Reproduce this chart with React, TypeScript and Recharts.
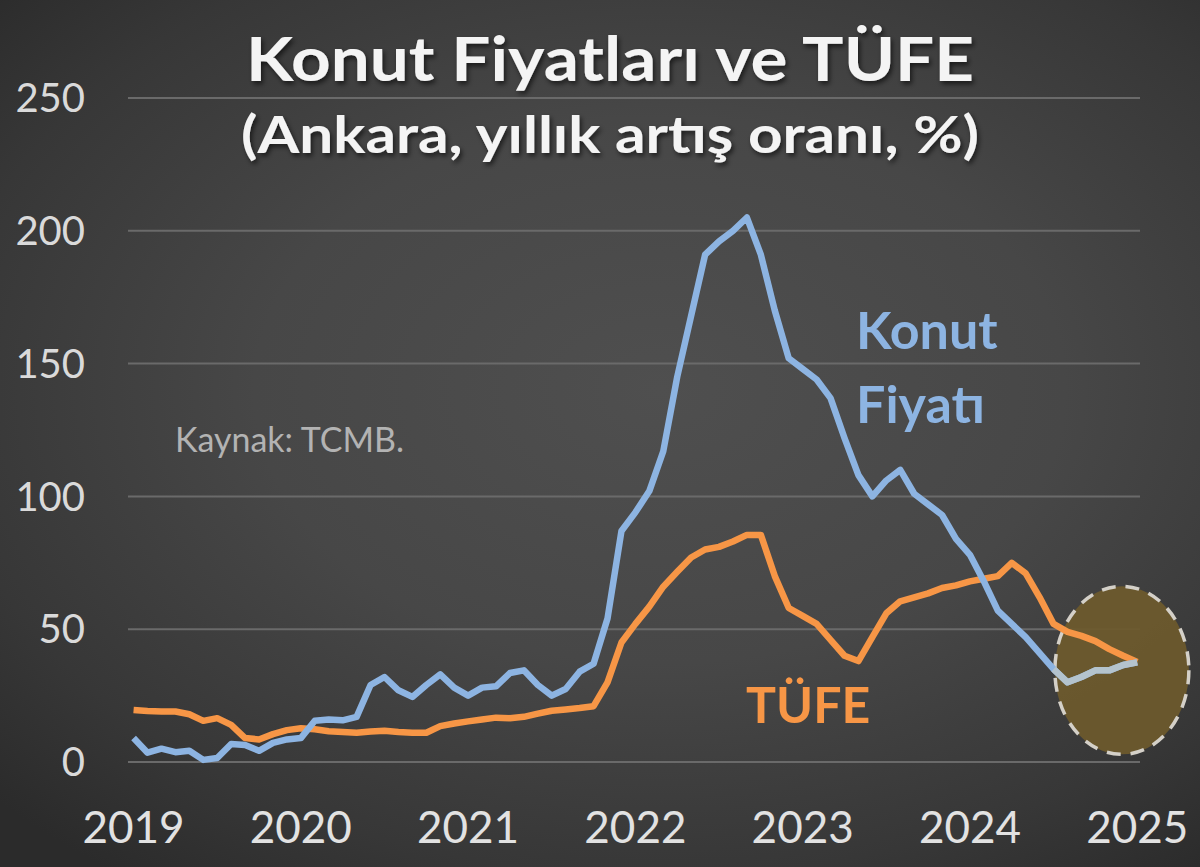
import { LineChart, Line, XAxis, YAxis, CartesianGrid, ReferenceDot } from "recharts";

// monthly, Jan 2019 .. Jan 2025 (index 0..72)
const yearTicks = [0, 12, 24, 36, 48, 60, 72];
const yearLabels = ["2019", "2020", "2021", "2022", "2023", "2024", "2025"];
const valueTicks = [0, 50, 100, 150, 200, 250];

// Konut fiyatı, yıllık % (Ankara)
const konut = [
  9, 3.5, 5, 3.7, 4.2, 0.8, 1.5, 6.8, 6.4, 4.2, 7.2, 8.5,
  9, 15.5, 16, 15.7, 17, 29, 32, 27, 24.5, 29, 33, 28,
  25, 28, 28.5, 33.5, 34.5, 29, 25, 27.5, 34, 37, 54, 87,
  94, 102, 117, 145, 168, 191, 196, 200, 205, 191, 170, 152,
  148, 144, 137, 122, 108, 100, 106, 110, 101, 97, 93, 84,
  78, 68, 57, 52, 47, 41, 35, 30, 32, 34.5, 34.5, 36.5,
  37.5,
];

// TÜFE, yıllık % (Ankara)
const tufe = [
  19.6, 19.2, 19, 19, 18, 15.5, 16.5, 14, 9, 8.5, 10.5, 12,
  12.7, 12.3, 11.6, 11.3, 11, 11.5, 11.8, 11.3, 11, 11, 13.5, 14.5,
  15.3, 16, 16.7, 16.5, 17, 18.2, 19.3, 19.8, 20.3, 21, 30, 45,
  52, 58.5, 66, 71.6, 77, 80, 81, 83, 85.5, 85.5, 70, 58,
  55, 52, 46, 40, 38, 47, 56, 60.5, 62, 63.5, 65.5, 66.5,
  68, 69, 70, 75, 71, 62, 52, 49, 47.5, 45.5, 42.5, 40,
  37.7,
];

const TAIL_START = 66;

const data = konut.map((k, i) => ({
  i,
  konut: k,
  tufe: tufe[i],
  konutTail: i >= TAIL_START ? k : null,
}));

const FONT = "Lato, 'Open Sans', sans-serif";
const BLUE = "#8db4e2";
const ORANGE = "#f79646";

const Highlight = (props: any) => (
  <ellipse
    cx={props.cx}
    cy={props.cy}
    rx={67}
    ry={84}
    fill="#6e5a2d"
    fillOpacity={0.92}
    stroke="#d4d0c8"
    strokeWidth={3.5}
    strokeDasharray="14 10"
  />
);

export default function App() {
  return (
    <div
      style={{
        position: "absolute",
        left: 0,
        top: 0,
        width: 1200,
        height: 867,
        overflow: "hidden",
        background:
          "radial-gradient(ellipse 75% 70% at 55% 45%, #4f4f4f 0%, #474747 45%, #373737 80%, #2b2b2b 100%)",
        fontFamily: FONT,
      }}
    >
      <LineChart
        width={1200}
        height={867}
        data={data}
        margin={{ top: 98, right: 60, bottom: 0, left: 0 }}
      >
        <CartesianGrid vertical={false} stroke="#6a6a6a" strokeWidth={2} />
        <XAxis
          dataKey="i"
          type="number"
          domain={[-0.4, 72.2]}
          ticks={yearTicks}
          tickFormatter={(v) => yearLabels[yearTicks.indexOf(v)] ?? ""}
          axisLine={false}
          tickLine={false}
          tickSize={0}
          tickMargin={50}
          height={105}
          tick={{ fill: "#e2e2e2", fontSize: 44, fontFamily: FONT }}
        />
        <YAxis
          type="number"
          domain={[0, 250]}
          ticks={valueTicks}
          axisLine={false}
          tickLine={false}
          tickSize={0}
          tickMargin={43}
          width={128}
          tick={{ fill: "#dadada", fontSize: 40, fontFamily: FONT }}
        />
        <ReferenceDot
          x={70.9}
          y={34.5}
          r={1}
          shape={Highlight}
          ifOverflow="visible"
          zIndex={350}
        />
        <Line
          type="linear"
          dataKey="tufe"
          stroke={ORANGE}
          strokeWidth={6.5}
          strokeLinejoin="round"
          dot={false}
          isAnimationActive={false}
        />
        <Line
          type="linear"
          dataKey="konut"
          stroke={BLUE}
          strokeWidth={6.5}
          strokeLinejoin="round"
          dot={false}
          isAnimationActive={false}
        />
        <Line
          type="linear"
          dataKey="konutTail"
          stroke="#b4c3cd"
          strokeWidth={6.5}
          strokeLinejoin="round"
          dot={false}
          connectNulls={false}
          isAnimationActive={false}
        />
      </LineChart>

      <svg
        width={1200}
        height={867}
        style={{ position: "absolute", left: 0, top: 0, pointerEvents: "none" }}
      >
        <defs>
          <filter id="shadow" x="-10%" y="-30%" width="120%" height="160%">
            <feDropShadow dx="2" dy="3" stdDeviation="2.5" floodColor="#000" floodOpacity="0.6" />
          </filter>
        </defs>
        <g fontFamily={FONT} fontWeight="bold" fill="#f4f4f4" textAnchor="middle" filter="url(#shadow)">
          <text x={610} y={81} fontSize={62} textLength={728} lengthAdjust="spacingAndGlyphs">
            Konut Fiyatları ve TÜFE
          </text>
          <text x={610} y={153} fontSize={52} textLength={738} lengthAdjust="spacingAndGlyphs">
            (Ankara, yıllık artış oranı, %)
          </text>
        </g>
        <g fontFamily={FONT} fontWeight="bold" fontSize={52} fill={BLUE}>
          <text x={856} y={349}>Konut</text>
          <text x={856} y={423}>Fiyatı</text>
        </g>
        <text x={746} y={723} fontFamily={FONT} fontWeight="bold" fontSize={50} fill={ORANGE}>
          TÜFE
        </text>
        <text x={175} y={452} fontFamily={FONT} fontSize={34} fill="#b3b3b3">
          Kaynak: TCMB.
        </text>
      </svg>
    </div>
  );
}
